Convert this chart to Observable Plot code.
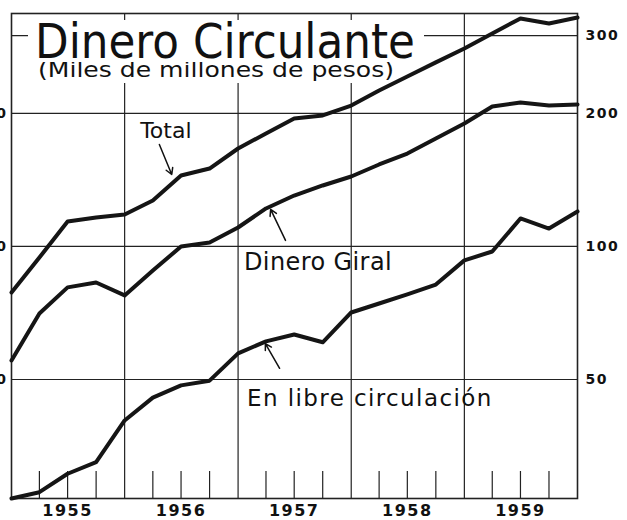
<!DOCTYPE html>
<html>
<head>
<meta charset="utf-8">
<script src="https://cdn.jsdelivr.net/npm/d3@7"></script>
<script src="https://cdn.jsdelivr.net/npm/@observablehq/plot@0.6"></script>
<style>
  html, body { margin: 0; padding: 0; background: #fff; }
  #wrap { position: relative; width: 627px; height: 520px; overflow: hidden; background: #fff; }
  #wrap > svg { position: absolute; left: 0; top: 0; }
  #wrap > svg.top { pointer-events: none; }
  .box { position: absolute; background: #fff; overflow: hidden; }
  .box svg text { font-family: "DejaVu Sans", sans-serif; fill: #111; }
  #wrap g[aria-label="x-axis tick label"] text { letter-spacing: 1.5px; }
  #wrap g[aria-label="y-axis tick label"] text { letter-spacing: 1.5px; }
</style>
</head>
<body>
<div id="wrap">
  <div class="box" id="title" style="left:28px;top:20px;width:396px;height:42px;">
    <svg width="396" height="42"><text x="7" y="38" font-size="48" textLength="380" lengthAdjust="spacingAndGlyphs">Dinero Circulante</text></svg>
  </div>
  <div class="box" id="sub" style="left:30px;top:62px;width:368px;height:21px;">
    <svg width="368" height="21"><text x="8" y="15" font-size="21" textLength="356" lengthAdjust="spacingAndGlyphs">(Miles de millones de pesos)</text></svg>
  </div>
</div>
<script>
// quarterly observations (drawn at quarter boundaries)
const quarters = [
  "1955-01-01", "1955-04-01", "1955-07-01", "1955-10-01",
  "1956-01-01", "1956-04-01", "1956-07-01", "1956-10-01",
  "1957-01-01", "1957-04-01", "1957-07-01", "1957-10-01",
  "1958-01-01", "1958-04-01", "1958-07-01", "1958-10-01",
  "1959-01-01", "1959-04-01", "1959-07-01", "1959-10-01",
  "1960-01-01"
];
const total = [78.7, 94.4, 113.9, 116.3, 118.1, 127.1, 144.7, 150.1, 166.6, 180.2, 194.8,
               197.9, 208.4, 225.4, 242.5, 260.9, 280.5, 303.3, 328.1, 319.6, 329.7];
const giral = [55.2, 70.5, 80.8, 82.9, 77.5, 88.2, 100.0, 102.1, 110.4, 121.9, 130.4,
               137.4, 144.0, 153.3, 162.3, 175.5, 189.8, 207.3, 211.7, 208.4, 209.6];
const libre = [26.9, 27.8, 30.6, 32.5, 40.4, 45.5, 48.5, 49.7, 57.3, 61.0, 63.2,
               60.7, 70.9, 74.3, 77.9, 82.0, 93.0, 97.4, 115.7, 109.8, 120.0];
const seriesNames = ["Total", "Dinero Giral", "En libre circulación"];
const yTicksRight = [50, 100, 200, 300];
const yTicksLeft = [50, 100, 200];
const yearLabels = ["1955", "1956", "1957", "1958", "1959"];

const parse = d3.utcParse("%Y-%m-%d");
const dates = quarters.map(parse);
const rows = (name, vals) => vals.map((v, i) => ({date: dates[i], value: v, series: name}));
const data = [
  ...rows(seriesNames[0], total),
  ...rows(seriesNames[1], giral),
  ...rows(seriesNames[2], libre)
];
const yearStarts = yearLabels.slice(1).map(y => parse(`${y}-01-01`));
const yearMids = yearLabels.map(y => parse(`${y}-07-01`));
const quarterTicks = dates.filter(d => d.getUTCMonth() !== 0);

const base = {
  width: 627, height: 520,
  marginLeft: 11, marginRight: 50, marginTop: 13, marginBottom: 22,
  style: {background: "transparent", fontFamily: "DejaVu Sans, sans-serif", color: "#111", overflow: "visible"}
};
const xDomain = [parse("1955-01-01"), parse("1960-01-01")];
const yDomain = [26.9, 336.6];

// Layer 1: grid, axes, frame
const under = Plot.plot({
  ...base,
  x: {type: "utc", domain: xDomain},
  y: {type: "log", domain: yDomain},
  marks: [
    Plot.ruleY(yTicksRight, {stroke: "#222", strokeWidth: 1.2}),
    Plot.ruleX(yearStarts, {stroke: "#222", strokeWidth: 1.2}),
    Plot.axisX(quarterTicks, {anchor: "bottom", tickSize: 27, dy: -27, tickFormat: () => "", stroke: "#222", strokeWidth: 1.2}),
    Plot.axisX(yearMids, {anchor: "bottom", tickSize: 0, tickPadding: 6, tickFormat: d3.utcFormat("%Y"),
                          fontSize: 16, fontWeight: "bold", fill: "#111"}),
    Plot.axisY(yTicksRight, {anchor: "right", tickSize: 0, tickPadding: 8, tickFormat: d3.format("d"),
                             fontSize: 14, fontWeight: "bold", fill: "#111"}),
    Plot.axisY(yTicksLeft, {anchor: "left", tickSize: 0, tickPadding: 4, tickFormat: d3.format("d"),
                            fontSize: 14, fontWeight: "bold", fill: "#111"}),
    Plot.frame({stroke: "#222", strokeWidth: 1.6})
  ]
});

// Layer 3: series lines, labels, arrows
const over = Plot.plot({
  ...base,
  x: {type: "utc", domain: xDomain, axis: null},
  y: {type: "log", domain: yDomain, axis: null},
  marks: [
    Plot.line(data, {x: "date", y: "value", z: "series", stroke: "#151515", strokeWidth: 4,
                     strokeLinejoin: "round", strokeLinecap: "round"}),
    Plot.text([seriesNames[0]], {x: parse("1956-02-20"), y: 183.0, text: d => d, textAnchor: "start",
                                 fontSize: 22, fill: "#111"}),
    Plot.text([seriesNames[1]], {x: parse("1957-01-20"), y: 92.0, text: d => d, textAnchor: "start",
                                 fontSize: 24, fill: "#111"}),
    Plot.text([seriesNames[2]], {x: parse("1957-01-30"), y: 45.3, text: d => d, textAnchor: "start",
                                 fontSize: 23, fill: "#111"}),
    Plot.arrow([0], {x1: parse("1956-04-22"), y1: 170.1, x2: parse("1956-06-01"), y2: 145.5,
                     stroke: "#111", strokeWidth: 1.5, headLength: 7}),
    Plot.arrow([0], {x1: parse("1957-06-03"), y1: 103.2, x2: parse("1957-04-16"), y2: 121.3,
                     stroke: "#111", strokeWidth: 1.5, headLength: 7}),
    Plot.arrow([0], {x1: parse("1957-05-15"), y1: 53.0, x2: parse("1957-03-30"), y2: 60.3,
                     stroke: "#111", strokeWidth: 1.5, headLength: 7})
  ]
});
over.classList.add("top");

// letter spacing of the hand-lettered labels
const spacing = {"Dinero Giral": "0.4px", "En libre circulación": "1.4px"};
d3.select(over).selectAll("text").each(function() {
  const s = spacing[this.textContent];
  if (s) this.style.letterSpacing = s;
});

const wrap = document.getElementById("wrap");
wrap.insertBefore(under, wrap.firstChild);
wrap.appendChild(over);
</script>
</body>
</html>
